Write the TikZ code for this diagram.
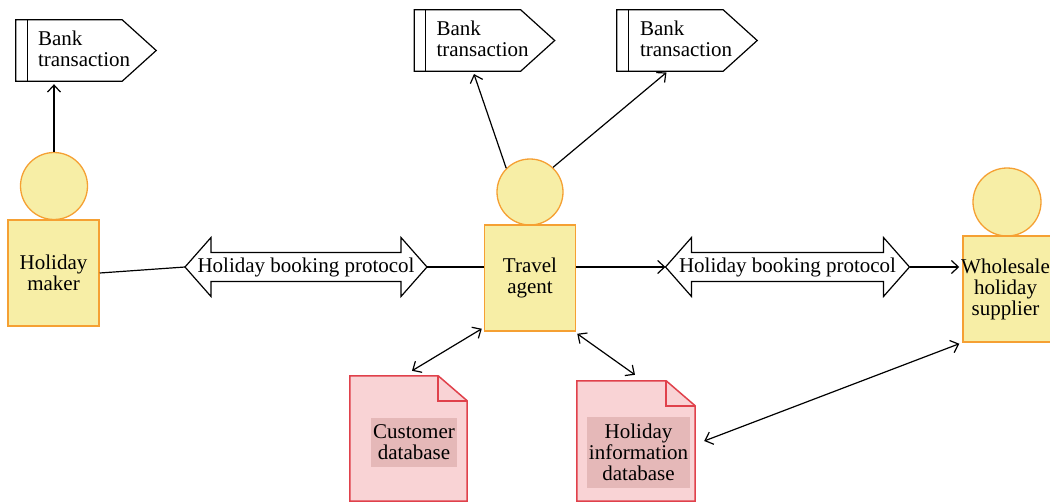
\documentclass[tikz,border=0pt]{standalone}
\usepackage{fontspec}
\setmainfont{Liberation Serif}
\usetikzlibrary{arrows.meta,calc}
\definecolor{pfill}{HTML}{F7EEA6}
\definecolor{pdraw}{HTML}{F5A033}
\definecolor{dfill}{HTML}{F9D3D5}
\definecolor{ddraw}{HTML}{E0414B}
\definecolor{lfill}{HTML}{E5B8B8}
\begin{document}
\begin{tikzpicture}[x=1pt,y=-1pt,
  every node/.style={font=\fontsize{21}{21}\selectfont},
  head/.style={circle, draw=pdraw, fill=pfill, line width=1.3pt, minimum size=#1, inner sep=0pt},
  body/.style={rectangle, draw=pdraw, fill=pfill, line width=1.5pt, minimum width=91pt, minimum height=106pt, align=center, inner sep=0pt},
  bodytext/.style={align=center, inner sep=0pt},
  bankbox/.style={minimum width=106pt, minimum height=61pt, inner sep=0pt},
  banktext/.style={anchor=west, align=left, inner sep=0pt},
  bankline/.style={draw=black, line width=1.2pt, fill=white},
  protoline/.style={draw=black, line width=1.2pt, fill=white},
  protext/.style={inner sep=0pt},
  docbox/.style={minimum width=#1, inner sep=0pt},
  docline/.style={draw=ddraw, fill=dfill, line width=1.5pt},
  foldline/.style={draw=ddraw, line width=1.5pt},
  doclabel/.style={fill=lfill, align=center, inner xsep=2pt, inner ysep=7pt},
  conn/.style={line width=1.2pt},
  arr/.style={conn, -{Straight Barb[length=7pt,width=13pt]}},
  darr/.style={conn, {Straight Barb[length=7pt,width=13pt]}-{Straight Barb[length=7pt,width=13pt]}}
]
\useasboundingbox (0,0) rectangle (1050,503);

% bank transactions
\node[bankbox] (b1) at (69,50.5) {};
\node[bankbox] (b2) at (467.5,40.5) {};
\node[bankbox] (b3) at (670,40.5) {};
\foreach \bk in {b1,b2,b3}{
  \draw[bankline] (\bk.north west) -- (\bk.north east) -- ($(\bk.east)+(34,0)$) -- (\bk.south east) -- (\bk.south west) -- cycle;
  \draw[conn] ($(\bk.north west)+(11.5,0)$) -- ($(\bk.south west)+(11.5,0)$);
}
\node[banktext] (b1t) at ($(b1.west)+(22,-1.5)$) {Bank\\transaction};
\node[banktext] (b2t) at ($(b2.west)+(22,-1.5)$) {Bank\\transaction};
\node[banktext] (b3t) at ($(b3.west)+(23,-1.5)$) {Bank\\transaction};

% persons
\node[head=67pt] (hmh) at (54,186) {};
\node[body] (hm) at (53.5,273) {Holiday\\maker};
\node[head=66pt] (tah) at (530,192) {};
\node[body] (ta) at (530,278) {Travel\\agent};
\node[head=68pt] (wsh) at (1007,202) {};
\node[body] (ws) at (1008.5,289) {};
\node[bodytext] (wst) at (1005.5,289) {Wholesale\\holiday\\supplier};

% protocol arrows
\coordinate (p1c) at (306,267);
\coordinate (p2c) at (787.5,267);
\foreach \p/\h in {p1c/121, p2c/122}{
  \draw[protoline] ($(\p)+(-\h,0)$) -- ++(26,-29.5) -- ++(0,15) -- ($(\p)+(\h-26,-14.5)$) -- ++(0,-15) -- ($(\p)+(\h,0)$) -- ++(-26,29.5) -- ++(0,-15) -- ($(\p)+(-\h+26,14.5)$) -- ++(0,15) -- cycle;
}
\coordinate (p1w) at ($(p1c)+(-121,0)$);
\coordinate (p1e) at ($(p1c)+(121,0)$);
\coordinate (p2w) at ($(p2c)+(-122,0)$);
\coordinate (p2e) at ($(p2c)+(122,0)$);
\node[protext] (p1) at (p1c) {Holiday booking protocol};
\node[protext] (p2) at (p2c) {Holiday booking protocol};

% databases
\node[docbox=117pt, minimum height=125pt] (cdb) at (408.5,438.5) {};
\node[docbox=118pt, minimum height=120pt] (idb) at (636,441) {};
\foreach \d in {cdb,idb}{
  \draw[docline] (\d.south west) -- (\d.north west) -- ($(\d.north east)+(-29,0)$) -- ($(\d.north east)+(0,25)$) -- (\d.south east) -- cycle;
  \draw[foldline] ($(\d.north east)+(-29,0)$) -- ++(0,25) -- ($(\d.north east)+(0,25)$);
}
\node[doclabel] (cdbt) at (414,442.5) {Customer\\database};
\node[doclabel] (idbt) at (638.5,452.5) {Holiday\\information\\database};

% connectors
\draw[arr, shorten >=3pt] (hmh.north) -- (hmh.north |- b1.south);
\draw[arr, shorten >=3pt] (tah.135) -- ($(b2.south)+(5.5,0)$);
\draw[arr, shorten >=2pt] (tah.47) -- ($(b3.south)+(-2,0)$);
\draw[conn] (hm.east) -- (p1w);
\draw[conn] (p1e) -- (p1e -| ta.west);
\draw[arr] (p2w -| ta.east) -- (p2w);
\draw[arr, shorten >=3pt] (p2e) -- (p2e -| ws.west);
\draw[darr] ($(cdb.north)+(3.5,-5)$) -- ($(ta.south west)+(-2,-3)$);
\draw[darr] ($(ta.south east)+(1,2)$) -- ($(idb.north)+(-1,-6)$);
\draw[darr] ($(idb.east)+(9,0)$) -- ($(ws.south west)+(-3,1)$);
\end{tikzpicture}
\end{document}
